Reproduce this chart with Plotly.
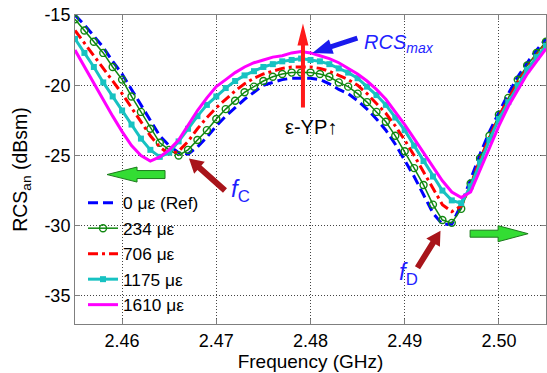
import math
import plotly.graph_objects as go

# Frequency sweep (GHz), one sample every 1 MHz
freq_ghz = [
    2.455, 2.456, 2.457, 2.458, 2.459, 2.460, 2.461, 2.462, 2.463, 2.464,
    2.465, 2.466, 2.467, 2.468, 2.469, 2.470, 2.471, 2.472, 2.473, 2.474,
    2.475, 2.476, 2.477, 2.478, 2.479, 2.480, 2.481, 2.482, 2.483, 2.484,
    2.485, 2.486, 2.487, 2.488, 2.489, 2.490, 2.491, 2.492, 2.493, 2.494,
    2.495, 2.496, 2.497, 2.498, 2.499, 2.500, 2.501, 2.502, 2.503, 2.504,
    2.505,
]

# RCS_an (dBsm) for each strain level
rcs_0 = [
    -15.0, -15.7, -16.5, -17.3, -18.3, -19.2, -20.3, -21.4, -22.6, -23.6,
    -24.3, -24.8, -24.9, -24.4, -23.7, -22.9, -22.2, -21.6, -21.0, -20.5,
    -20.0, -19.8, -19.6, -19.5, -19.5, -19.5, -19.6, -19.9, -20.3, -20.6,
    -21.1, -21.7, -22.4, -23.2, -24.2, -25.3, -26.5, -27.8, -29.1, -29.9,
    -29.9, -28.5, -26.7, -24.9, -23.3, -21.9, -20.6, -19.4, -18.4, -17.5,
    -16.7,
]
rcs_234 = [
    -15.3, -16.1, -16.9, -17.7, -18.7, -19.6, -20.8, -21.9, -23.1, -24.1,
    -24.6, -25.0, -24.6, -23.9, -23.2, -22.4, -21.7, -21.1, -20.5, -20.1,
    -19.7, -19.4, -19.2, -19.1, -19.1, -19.1, -19.2, -19.4, -19.8, -20.1,
    -20.6, -21.2, -21.9, -22.6, -23.6, -24.7, -25.9, -27.1, -28.5, -29.6,
    -29.8, -28.8, -27.0, -25.2, -23.6, -22.1, -20.9, -19.6, -18.6, -17.7,
    -16.9,
]
rcs_706 = [
    -16.1, -17.0, -17.9, -18.8, -19.7, -20.6, -21.6, -22.6, -23.6, -24.4,
    -24.9, -24.7, -24.0, -23.1, -22.3, -21.6, -21.0, -20.4, -19.9, -19.5,
    -19.2, -19.0, -18.8, -18.7, -18.7, -18.7, -18.8, -19.0, -19.3, -19.6,
    -20.0, -20.6, -21.3, -22.0, -22.9, -23.9, -25.0, -26.2, -27.4, -28.5,
    -29.0, -28.6, -27.1, -25.3, -23.7, -22.2, -21.0, -19.8, -18.8, -17.9,
    -17.1,
]
rcs_1175 = [
    -16.7, -17.7, -18.7, -19.8, -20.8, -21.8, -22.8, -23.8, -24.6, -25.1,
    -24.8, -24.0, -23.1, -22.2, -21.4, -20.8, -20.2, -19.7, -19.3, -19.0,
    -18.7, -18.5, -18.3, -18.2, -18.1, -18.2, -18.3, -18.5, -18.8, -19.1,
    -19.5, -20.1, -20.7, -21.4, -22.3, -23.2, -24.3, -25.4, -26.5, -27.5,
    -28.2, -28.4, -27.2, -25.5, -23.9, -22.4, -21.2, -20.0, -18.9, -18.0,
    -17.2,
]
rcs_1610 = [
    -17.5, -18.7, -19.9, -21.1, -22.2, -23.3, -24.3, -25.0, -25.4, -25.1,
    -24.6, -23.9, -22.8, -21.8, -20.9, -20.1, -19.6, -19.1, -18.7, -18.4,
    -18.2, -18.0, -17.9, -17.7, -17.6, -17.7, -17.9, -18.1, -18.4, -18.8,
    -19.2, -19.7, -20.3, -21.0, -21.9, -22.8, -23.8, -24.8, -25.8, -26.8,
    -27.6, -28.0, -27.6, -26.0, -24.4, -22.9, -21.5, -20.3, -19.2, -18.3,
    -17.4,
]

series_names = ["0 \u03bc\u03b5 (Ref)", "234 \u03bc\u03b5", "706 \u03bc\u03b5",
                "1175 \u03bc\u03b5", "1610 \u03bc\u03b5"]

x_ticks = [2.46, 2.47, 2.48, 2.49, 2.50]
x_tick_text = ["2.46", "2.47", "2.48", "2.49", "2.50"]
y_ticks = [-35, -30, -25, -20, -15]
y_tick_text = ["-35", "-30", "-25", "-20", "-15"]

FONT = "Liberation Sans, Arial, sans-serif"
BLUE_TXT = "#1f1fff"

fig = go.Figure()

fig.add_trace(go.Scatter(
    x=freq_ghz, y=rcs_0, name=series_names[0], mode="lines",
    line=dict(color="#0000ff", width=3, dash="10px,5px"),
))
fig.add_trace(go.Scatter(
    x=freq_ghz, y=rcs_234, name=series_names[1], mode="lines+markers",
    line=dict(color="#118811", width=1.5),
    marker=dict(symbol="circle-open", size=7, color="#118811",
                line=dict(width=1.4, color="#118811")),
))
fig.add_trace(go.Scatter(
    x=freq_ghz, y=rcs_706, name=series_names[2], mode="lines",
    line=dict(color="#ff0000", width=3, dash="10px,4px,3px,4px"),
))
fig.add_trace(go.Scatter(
    x=freq_ghz, y=rcs_1175, name=series_names[3], mode="lines+markers",
    line=dict(color="#17c2c2", width=3),
    marker=dict(symbol="square", size=6, color="#17c2c2"),
))
fig.add_trace(go.Scatter(
    x=freq_ghz, y=rcs_1610, name=series_names[4], mode="lines",
    line=dict(color="#ff00ff", width=3),
))


def arrow_path(dx, dy, shaft_w, head_len, head_w):
    """Polygon of a block arrow whose tip is at (0, 0) and tail at (dx, dy), in pixels (y up)."""
    length = math.hypot(dx, dy)
    ux, uy = dx / length, dy / length
    px, py = -uy, ux
    pts = [
        (0.0, 0.0),
        (ux * head_len + px * head_w / 2, uy * head_len + py * head_w / 2),
        (ux * head_len + px * shaft_w / 2, uy * head_len + py * shaft_w / 2),
        (dx + px * shaft_w / 2, dy + py * shaft_w / 2),
        (dx - px * shaft_w / 2, dy - py * shaft_w / 2),
        (ux * head_len - px * shaft_w / 2, uy * head_len - py * shaft_w / 2),
        (ux * head_len - px * head_w / 2, uy * head_len - py * head_w / 2),
    ]
    return "M " + " L ".join(f"{x:.2f},{y:.2f}" for x, y in pts) + " Z"


def add_arrow(tip_x, tip_y, dx, dy, shaft_w, head_len, head_w, fill, edge=None):
    fig.add_shape(
        type="path", xref="x", yref="y",
        xsizemode="pixel", ysizemode="pixel",
        xanchor=tip_x, yanchor=tip_y,
        path=arrow_path(dx, dy, shaft_w, head_len, head_w),
        fillcolor=fill,
        line=dict(color=edge or fill, width=1 if edge else 0),
        layer="above",
    )


# white panel behind the legend
fig.add_shape(type="rect", xref="x", yref="y", x0=2.455, x1=2.4697, y0=-37, y1=-27.6,
              fillcolor="white", line=dict(width=0), layer="below")

# frequency-shift arrows
add_arrow(2.4584, -26.36, 58, 0, 8, 30, 15, "#33dd33", "#1d7a1d")
add_arrow(2.5031, -30.57, -58, 0, 7, 30, 16, "#33dd33", "#1d7a1d")
# resonance markers
add_arrow(2.4671, -25.21, 36, -32, 6, 14, 16, "#a8141a")
add_arrow(2.4938, -30.36, -23, -37, 6, 14, 16, "#a8141a")
# strain direction and RCS maximum
add_arrow(2.4792, -15.6, 0, -84, 4, 22, 11, "#ff1a1a")
add_arrow(2.4802, -17.71, 45, 15, 5, 20, 15, "#1a1aee")

fig.add_annotation(x=2.4801, y=-23.0, text="\u03b5-YP\u2191", showarrow=False,
                   font=dict(size=20, color="black", family=FONT))
fig.add_annotation(x=2.4726, y=-27.5, text="<i>f</i><sub>C</sub>", showarrow=False,
                   font=dict(size=24, color=BLUE_TXT, family=FONT))
fig.add_annotation(x=2.4904, y=-33.4, text="<i>f</i><sub>D</sub>", showarrow=False,
                   font=dict(size=24, color=BLUE_TXT, family=FONT))
fig.add_annotation(x=2.4855, y=-17.0, xanchor="left", text="<i>RCS<sub>max</sub></i>",
                   showarrow=False, font=dict(size=20, color=BLUE_TXT, family=FONT))

axis_common = dict(
    showgrid=True, gridcolor="#444444", gridwidth=1, griddash="1px,2px",
    showline=True, linecolor="#7f7f7f", linewidth=1, mirror="ticks",
    ticks="inside", ticklen=5, tickcolor="#7f7f7f", zeroline=False,
    tickfont=dict(size=18, color="black", family=FONT),
)

fig.update_layout(
    width=547, height=373,
    margin=dict(l=75, r=1, t=15, b=49),
    plot_bgcolor="white", paper_bgcolor="white",
    font=dict(family=FONT, size=17, color="black"),
    showlegend=True,
    legend=dict(x=0.017, y=0.45, xanchor="left", yanchor="top",
                bgcolor="rgba(0,0,0,0)", borderwidth=0,
                font=dict(size=17.3, color="black", family=FONT)),
    xaxis=dict(range=[2.455, 2.505], tickvals=x_ticks, ticktext=x_tick_text,
               title=dict(text="Frequency (GHz)", font=dict(size=19, family=FONT), standoff=1),
               **axis_common),
    yaxis=dict(range=[-37, -15], tickvals=y_ticks, ticktext=y_tick_text,
               title=dict(text="RCS<sub>an</sub> (dBsm)", font=dict(size=19.5, family=FONT), standoff=11),
               **axis_common),
)

fig.write_html("out.html")
